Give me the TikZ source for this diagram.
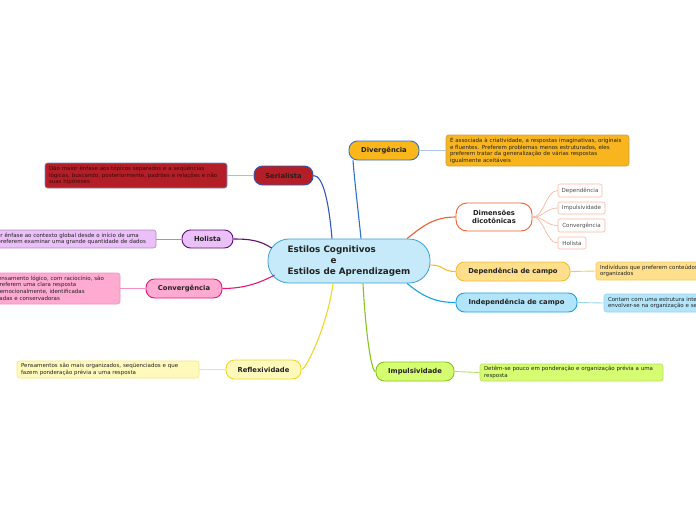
\documentclass[tikz,border=0pt]{standalone}
\usepackage{fontspec}
\setmainfont{DejaVu Sans}
\usetikzlibrary{calc}
\definecolor{cFill}{HTML}{C6EAFA}
\definecolor{cDraw}{HTML}{3C9FD9}
\definecolor{divFill}{HTML}{F9B71B}
\definecolor{divDraw}{HTML}{2F6FC8}
\definecolor{divNote}{HTML}{F8B51E}
\definecolor{divNoteDraw}{HTML}{C8A040}
\definecolor{serFill}{HTML}{B41F27}
\definecolor{serDraw}{HTML}{3458B8}
\definecolor{serText}{HTML}{3A0808}
\definecolor{holFill}{HTML}{EBBFF8}
\definecolor{holDraw}{HTML}{5B1170}
\definecolor{holNoteDraw}{HTML}{B588C8}
\definecolor{conFill}{HTML}{FFAAD1}
\definecolor{conDraw}{HTML}{E5177A}
\definecolor{conNoteDraw}{HTML}{F590C0}
\definecolor{refFill}{HTML}{FFFABB}
\definecolor{refDraw}{HTML}{EFD62A}
\definecolor{refNoteDraw}{HTML}{F3E680}
\definecolor{impFill}{HTML}{D6FC72}
\definecolor{impDraw}{HTML}{88C41E}
\definecolor{impNoteDraw}{HTML}{B5DE5C}
\definecolor{indFill}{HTML}{B3E5FA}
\definecolor{indDraw}{HTML}{1BA0E1}
\definecolor{indNoteDraw}{HTML}{98D3F0}
\definecolor{depFill}{HTML}{FFDF8B}
\definecolor{depDraw}{HTML}{F4BC35}
\definecolor{depNoteDraw}{HTML}{F3CB5C}
\definecolor{dimDraw}{HTML}{EF5F2E}
\definecolor{subDraw}{HTML}{FAB7A0}
\definecolor{txt}{HTML}{222222}
\begin{document}
\begin{tikzpicture}[x=1pt,y=-1pt,
  mainbox/.style={draw, line width=0.9pt, rounded corners=8.5pt, minimum height=19pt, inner sep=0pt, font=\bfseries\fontsize{6.8}{8}\selectfont, text=txt},
  notebox/.style={draw, line width=0.6pt, rounded corners=2.5pt, inner xsep=4pt, inner ysep=0pt, align=left, font=\fontsize{5.5}{6.7}\selectfont, text=txt},
  subbox/.style={draw=subDraw, fill=white, line width=0.6pt, rounded corners=2pt, inner sep=0pt, font=\fontsize{5.6}{6.5}\selectfont, text=txt!80},
  link/.style={line width=1.1pt},
  notelink/.style={line width=0.9pt}]
\useasboundingbox (0,0) rectangle (696,520);

% central
\node[draw=cDraw, fill=cFill, line width=0.8pt, rounded corners=21pt, minimum width=162pt, minimum height=44pt, inner sep=0pt, align=left, font=\bfseries\fontsize{8.8}{11}\selectfont, text=txt] (c) at (349,261) {Estilos Cognitivos\\\hspace*{43pt}e\\Estilos de Aprendizagem};

% Divergencia
\node[mainbox, draw=divDraw, fill=divFill, minimum width=70pt] (div) at (384,150.5) {Divergência};
\node[notebox, draw=divNoteDraw, fill=divNote, minimum width=183pt, minimum height=31pt, text width=175pt] (divn) at (537.5,150.5) {É associada à criatividade, a respostas imaginativas, originais\\e fluentes. Preferem problemas menos estruturados, eles\\preferem tratar da generalização de várias respostas\\igualmente aceitáveis};

% Serialista
\node[mainbox, draw=serDraw, fill=serFill, minimum width=59pt] (ser) at (283.5,175.5) {Serialista};
\node[notebox, draw=serDraw!70, fill=serFill, text=serText, minimum width=182pt, minimum height=25pt, text width=174pt] (sern) at (136,175.5) {Dão maior ênfase aos tópicos separados e a seqüências\\lógicas, buscando, posteriormente, padrões e relações e não\\suas hipóteses};

% Holista
\node[mainbox, draw=holDraw, fill=holFill, minimum width=51pt, minimum height=18pt] (hol) at (207.5,239) {Holista};
\node[notebox, draw=holNoteDraw, fill=holFill, minimum width=186pt, minimum height=18pt, text width=178pt] (holn) at (63,239) {Dão maior ênfase ao contexto global desde o início de uma\\tarefa e preferem examinar uma grande quantidade de dados};

% Convergencia
\node[mainbox, draw=conDraw, fill=conFill, minimum width=76pt] (con) at (184,288.5) {Convergência};
\node[notebox, draw=conNoteDraw, fill=conFill, minimum width=164pt, minimum height=31pt, text width=156pt] (conn) at (38,288.5) {Enfatizam o pensamento lógico, com raciocínio, são\\pessoas que preferem uma clara resposta\\e são inibidas emocionalmente, identificadas\\como disciplinadas e conservadoras};

% Reflexividade
\node[mainbox, draw=refDraw, fill=refFill, minimum width=75pt] (ref) at (263.5,369.5) {Reflexividade};
\node[notebox, draw=refNoteDraw, fill=refFill, minimum width=182pt, minimum height=17pt, text width=174pt] (refn) at (108,369.5) {Pensamentos são mais organizados, seqüenciados e que\\fazem ponderação prévia a uma resposta};

% Impulsividade
\node[mainbox, draw=impDraw, fill=impFill, minimum width=78pt] (imp) at (415,371.5) {Impulsividade};
\node[notebox, draw=impNoteDraw, fill=impFill, minimum width=183pt, minimum height=17pt, text width=175pt] (impn) at (571.5,372.5) {Detêm-se pouco em ponderação e organização prévia a uma\\resposta};

% Independencia de campo
\node[mainbox, draw=indDraw, fill=indFill, minimum width=121pt] (ind) at (516.5,302.5) {Independência de campo};
\node[notebox, draw=indNoteDraw, fill=indFill, minimum width=183pt, minimum height=18pt, text width=175pt] (indn) at (695.5,303) {Contam com uma estrutura interna e preferem\\envolver-se na organização e seleção do conteúdo};

% Dependencia de campo
\node[mainbox, draw=depDraw, fill=depFill, minimum width=114pt] (dep) at (513,271.5) {Dependência de campo};
\node[notebox, draw=depNoteDraw, fill=depFill, minimum width=183pt, minimum height=18pt, text width=175pt] (depn) at (687.5,271) {Indivíduos que preferem conteúdos já\\organizados};

% Dimensoes dicotomicas
\node[mainbox, draw=dimDraw, fill=white, minimum width=76pt, minimum height=28pt, rounded corners=11pt, align=center] (dim) at (494,217) {Dimensões\\dicotônicas};
\node[subbox, minimum width=44pt, minimum height=13pt] (s1) at (580,190.5) {Dependência};
\node[subbox, minimum width=47pt, minimum height=12pt] (s2) at (581.5,208) {Impulsividade};
\node[subbox, minimum width=47pt, minimum height=13pt] (s3) at (581.5,225.5) {Convergência};
\node[subbox, minimum width=28pt, minimum height=12pt] (s4) at (572,243) {Holista};

% main connectors
\draw[link, draw=divDraw] ($(c.north)+(12,0)$) .. controls +(-3,-30) and +(2,25) .. ($(div.south)+(-31,0)$);
\draw[link, draw=serDraw] ($(c.north)+(-17,0)$) .. controls +(-3,-35) and +(10,0) .. (ser.east);
\draw[link, draw=holDraw] ($(c.west)+(4,-13)$) .. controls +(-12,-8) and +(15,0) .. (hol.east);
\draw[link, draw=conDraw] ($(c.west)+(7,14)$) .. controls +(-15,8) and +(22,0) .. (con.east);
\draw[link, draw=refDraw] ($(c.south)+(-16,0)$) .. controls +(-5,40) and +(5,0) .. (ref.east);
\draw[link, draw=impDraw] ($(c.south)+(14,0)$) .. controls +(2,40) and +(-5,0) .. (imp.west);
\draw[link, draw=indDraw] ($(c.south)+(58,0)$) .. controls +(15,12) and +(-22,0) .. (ind.west);
\draw[link, draw=depDraw] ($(c.east)+(0,4)$) .. controls +(14,0) and +(-14,0) .. (dep.west);
\draw[link, draw=dimDraw] ($(c.north)+(58,0)$) .. controls +(15,-12) and +(-22,0) .. (dim.west);

% note connectors
\draw[notelink, draw=divDraw!40] (div.east) -- (divn.west);
\draw[notelink, draw=serDraw!40] (ser.west) -- (sern.east);
\draw[notelink, draw=holNoteDraw] (hol.west) -- (holn.east);
\draw[notelink, draw=conNoteDraw] (con.west) -- (conn.east);
\draw[notelink, draw=refNoteDraw] (ref.west) -- (refn.east);
\draw[notelink, draw=impNoteDraw] (imp.east) -- (impn.west);
\draw[notelink, draw=indNoteDraw] (ind.east) -- (indn.west);
\draw[notelink, draw=depNoteDraw] (dep.east) -- (depn.west);

% sub connectors
\foreach \s in {s1,s2,s3,s4}
  \draw[line width=0.7pt, draw=subDraw] (dim.east) .. controls +(12,0) and +(-12,0) .. (\s.west);
\end{tikzpicture}
\end{document}
